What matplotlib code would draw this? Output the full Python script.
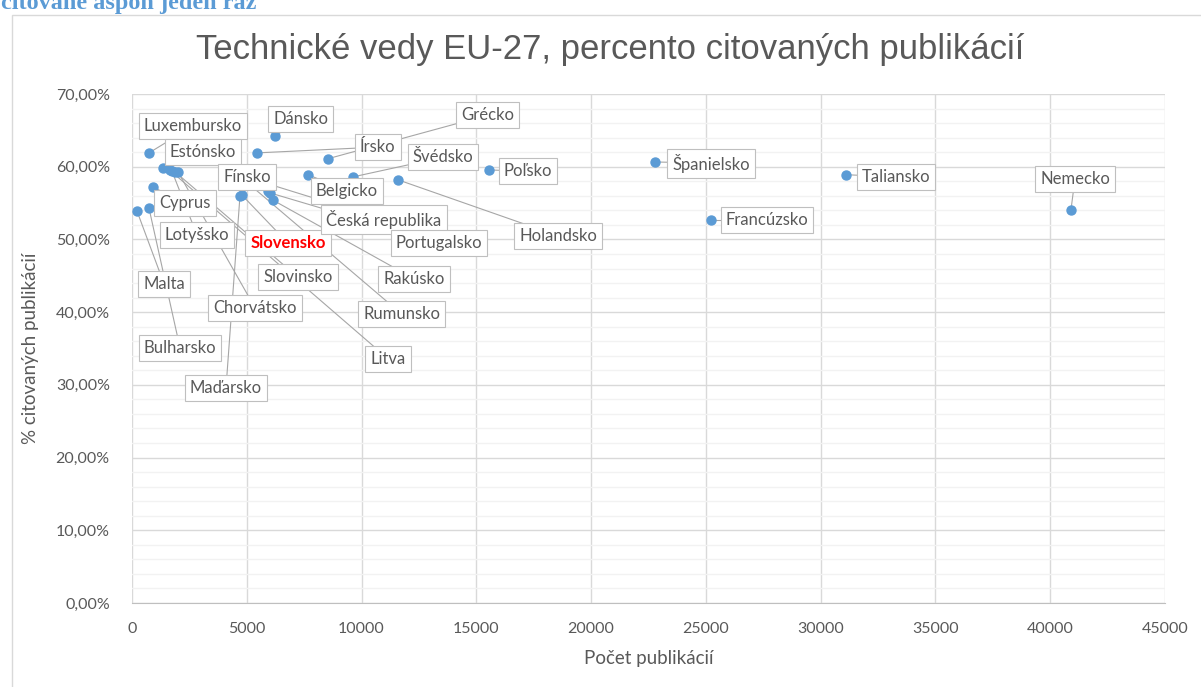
import matplotlib
matplotlib.use("Agg")
import matplotlib.pyplot as plt
from matplotlib.patches import Rectangle
from matplotlib.ticker import FuncFormatter, MultipleLocator


COUNTRIES = [
    "Luxembursko", "Estónsko", "Lotyšsko", "Chorvátsko", "Cyprus", "Malta",
    "Bulharsko", "Slovensko", "Írsko", "Grécko", "Fínsko", "Rakúsko",
    "Belgicko", "Švédsko", "Holandsko", "Dánsko", "Poľsko", "Španielsko",
    "Francúzsko", "Taliansko", "Nemecko", "Česká republika", "Portugalsko",
    "Rumunsko", "Slovinsko", "Litva", "Maďarsko",
]
PUBLICATIONS = [
    740, 1350, 1740, 2000, 915, 218,
    740, 4790, 5445, 8538, 5924, 6142,
    7667, 9627, 11587, 6229, 15551, 22782,
    25221, 31102, 40903, 5663, 6011,
    5140, 1873, 1655, 4704,
]
CITED_PCT = [
    61.9, 59.8, 59.4, 59.3, 57.2, 53.9,
    54.3, 56.1, 61.9, 61.1, 56.7, 55.4,
    58.9, 58.6, 58.2, 64.2, 59.55, 60.65,
    52.7, 58.9, 54.05, 57.9, 56.4,
    57.5, 59.3, 59.5, 56.0,
]
HIGHLIGHT = "Slovensko"

# label box centres (layout only), in axis units
LABEL_POS = {
    "Luxembursko": (2657, 65.6), "Dánsko": (7362, 66.6), "Grécko": (15507, 67.1),
    "Estónsko": (3093, 62.0), "Írsko": (10716, 62.7), "Švédsko": (13547, 61.3),
    "Poľsko": (17250, 59.4), "Španielsko": (25221, 60.5), "Taliansko": (33280, 58.6),
    "Nemecko": (41077, 58.3), "Francúzsko": (27661, 52.7), "Holandsko": (18557, 50.5),
    "Fínsko": (5009, 58.6), "Belgicko": (9365, 56.7), "Česká republika": (10977, 52.7),
    "Portugalsko": (13373, 49.5), "Cyprus": (2309, 55.0), "Lotyšsko": (2831, 50.6),
    "Slovensko": (6795, 49.5), "Slovinsko": (7231, 44.8), "Malta": (1394, 43.9),
    "Chorvátsko": (5358, 40.6), "Bulharsko": (2091, 35.1), "Maďarsko": (4095, 29.6),
    "Rakúsko": (12284, 44.6), "Rumunsko": (11761, 39.7), "Litva": (11151, 33.6),
}

TEXT_COLOR = "#595959"
POINT_COLOR = "#5b9bd5"

fig = plt.figure(figsize=(12.01, 6.87), dpi=100)
fig.patch.set_facecolor("white")

# chart area frame and the heading above it (cut off at the top, as in the source)
fig.patches.append(Rectangle((12 / 1201, -0.01), 1.0, 1 - 15 / 687 + 0.01,
                             transform=fig.transFigure, fill=False,
                             edgecolor="#d9d9d9", linewidth=1.0))
fig.text(1 / 1201, 1 - 9 / 687, "citované aspoň jeden raz", color="#5b9bd5",
         fontsize=17.5, fontweight="bold", family="Liberation Serif",
         ha="left", va="baseline")

# chart title is centred on the whole chart area, not on the plot area
fig.text(610 / 1201, 1 - 50 / 687, "Technické vedy EU-27, percento citovaných publikácií",
         fontsize=25, color=TEXT_COLOR, family="Liberation Sans",
         ha="center", va="center")

ax = fig.add_axes([132 / 1201, 1 - 603 / 687, 1033 / 1201, 509 / 687])
ax.set_xlim(0, 45000)
ax.set_ylim(0, 70)

ax.xaxis.set_major_locator(MultipleLocator(5000))
ax.yaxis.set_major_locator(MultipleLocator(10))
ax.yaxis.set_minor_locator(MultipleLocator(2))
ax.yaxis.set_major_formatter(FuncFormatter(lambda v, _: f"{v:.2f}%".replace(".", ",")))
ax.grid(True, which="major", color="#d9d9d9", linewidth=1.0)
ax.grid(True, which="minor", axis="y", color="#f2f2f2", linewidth=1.0)
ax.set_axisbelow(True)

for side in ["top", "right", "left"]:
    ax.spines[side].set_visible(False)
ax.spines["bottom"].set_color("#bfbfbf")
ax.tick_params(which="both", length=0, colors=TEXT_COLOR, labelsize=11.5)
ax.tick_params(axis="x", pad=14)
ax.tick_params(axis="y", pad=16)
for label in ax.get_xticklabels() + ax.get_yticklabels():
    label.set_family("Lato")

ax.set_xlabel("Počet publikácií", fontsize=13.5, color=TEXT_COLOR, family="Lato", labelpad=10)
ax.set_ylabel("% citovaných publikácií", fontsize=13.5, color=TEXT_COLOR, family="Lato", labelpad=12)

# leader lines first, then points, then label boxes on top
for name, x, y in zip(COUNTRIES, PUBLICATIONS, CITED_PCT):
    lx, ly = LABEL_POS[name]
    ax.plot([lx, x], [ly, y], color="#a6a6a6", linewidth=0.8, zorder=3, clip_on=False)

ax.scatter(PUBLICATIONS, CITED_PCT, s=42, color=POINT_COLOR, zorder=4, clip_on=False)

for name in COUNTRIES:
    lx, ly = LABEL_POS[name]
    is_sk = name == HIGHLIGHT
    ax.text(lx, ly, name, ha="center", va="center", fontsize=12, family="Lato",
            color="red" if is_sk else TEXT_COLOR,
            fontweight="bold" if is_sk else "normal", zorder=5,
            bbox=dict(boxstyle="square,pad=0.3", facecolor="white",
                      edgecolor="#bfbfbf", linewidth=0.8))

fig.savefig("out.png", dpi=100)
